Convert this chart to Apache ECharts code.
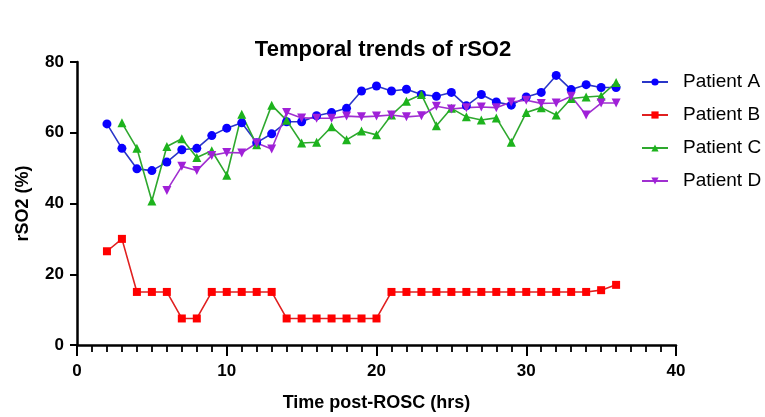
<!DOCTYPE html>
<html>
<head>
<meta charset="utf-8">
<script src="https://cdn.jsdelivr.net/npm/echarts@6/dist/echarts.min.js"></script>
<style>
  html, body { margin: 0; padding: 0; background: #fff; }
  #chart { width: 765px; height: 417px; }
</style>
</head>
<body>
<div id="chart"></div>
<script>
// Hours after return of spontaneous circulation
const hoursA = [2,3,4,5,6,7,8,9,10,11,12,13,14,15,16,17,18,19,20,21,22,23,24,25,26,27,28,29,30,31,32,33,34,35,36];
const patientA = [62.5,55.6,49.8,49.3,51.7,55.2,55.6,59.2,61.3,62.8,57.2,59.7,63.1,63.1,64.8,65.7,66.9,71.8,73.2,71.8,72.3,70.8,70.3,71.4,67.6,70.8,68.7,67.8,70.1,71.4,76.2,72.2,73.6,72.8,72.8];

const hoursB = [2,3,4,5,6,7,8,9,10,11,12,13,14,15,16,17,18,19,20,21,22,23,24,25,26,27,28,29,30,31,32,33,34,35,36];
const patientB = [26.5,30,15,15,15,7.5,7.5,15,15,15,15,15,7.5,7.5,7.5,7.5,7.5,7.5,7.5,15,15,15,15,15,15,15,15,15,15,15,15,15,15,15.5,17];

const hoursC = [3,4,5,6,7,8,9,10,11,12,13,14,15,16,17,18,19,20,21,22,23,24,25,26,27,28,29,30,31,32,33,34,35,36];
const patientC = [62.8,55.6,40.7,56.1,58.3,53,54.9,48,65.2,56.6,67.8,63.5,57.1,57.3,61.7,58,60.5,59.4,65,68.9,70.8,62,66.9,64.5,63.6,64.2,57.3,65.7,67.1,65,69.7,70.1,70.4,74.2];

const hoursD = [6,7,8,9,10,11,12,13,14,15,16,17,18,19,20,21,22,23,24,25,26,27,28,29,30,31,32,33,34,35,36];
const patientD = [43.7,50.5,49.3,53.6,54.4,54.3,57.1,55.4,65.7,64.2,64.1,64.1,64.7,64.5,64.7,65,64.5,64.8,67.5,66.7,67.1,67.3,67.1,68.7,69.2,68.3,68.4,70.3,65,68.4,68.4];

const seriesNames = ['Patient A', 'Patient B', 'Patient C', 'Patient D'];
const xTicks = [0, 10, 20, 30, 40];
const yTicks = [0, 20, 40, 60, 80];

const pair = (xs, ys) => xs.map((x, i) => [x, ys[i]]);

const font = 'Liberation Sans, Arial, sans-serif';

function lineSeries(name, data, color, lineColor, symbol, size, rotate) {
  return {
    name: name,
    type: 'line',
    data: data,
    symbol: symbol,
    symbolSize: size,
    symbolRotate: rotate || 0,
    showAllSymbol: true,
    itemStyle: { color: color },
    lineStyle: { color: lineColor, width: 1.6 },
    emphasis: { disabled: true },
    animation: false
  };
}

const chart = echarts.init(document.getElementById('chart'), null, { renderer: 'canvas' });
chart.setOption({
  backgroundColor: '#ffffff',
  animation: false,
  title: {
    text: 'Temporal trends of rSO2',
    left: 378,
    textAlign: 'center',
    top: 34,
    textStyle: { fontFamily: font, fontSize: 22, fontWeight: 'bold', color: '#000' }
  },
  legend: {
    orient: 'vertical',
    left: 636,
    top: 67,
    itemWidth: 26,
    itemHeight: 9,
    itemGap: 13,
    data: seriesNames,
    textStyle: { fontFamily: font, fontSize: 19, lineHeight: 20, color: '#000', padding: [0, 0, 0, 10] }
  },
  grid: { left: 77, right: 89, top: 62, bottom: 70, containLabel: false },
  xAxis: {
    type: 'value',
    min: 0,
    max: 40,
    interval: 10,
    name: 'Time post-ROSC (hrs)',
    nameLocation: 'middle',
    nameGap: 49,
    nameTextStyle: { fontFamily: font, fontSize: 18, fontWeight: 'bold', color: '#000' },
    axisLine: { onZero: false, lineStyle: { color: '#000', width: 2.5 } },
    axisTick: { length: 11, lineStyle: { color: '#000', width: 2 } },
    minorTick: { show: true, splitNumber: 10, length: 7, lineStyle: { color: '#000', width: 1.8 } },
    axisLabel: {
      fontFamily: font, fontSize: 17, fontWeight: 'bold', color: '#000', margin: 18,
      formatter: v => xTicks.includes(v) ? String(v) : ''
    },
    splitLine: { show: false }
  },
  yAxis: {
    type: 'value',
    min: 0,
    max: 80,
    interval: 20,
    name: 'rSO2 (%)',
    nameLocation: 'middle',
    nameGap: 45,
    nameTextStyle: { fontFamily: font, fontSize: 18, fontWeight: 'bold', color: '#000' },
    axisLine: { show: true, lineStyle: { color: '#000', width: 2.5 } },
    axisTick: { show: true, length: 7, lineStyle: { color: '#000', width: 2 } },
    axisLabel: {
      fontFamily: font, fontSize: 17, fontWeight: 'bold', color: '#000', margin: 13,
      formatter: v => yTicks.includes(v) ? String(v) : ''
    },
    splitLine: { show: false }
  },
  series: [
    lineSeries(seriesNames[0], pair(hoursA, patientA), '#0a00ff', '#2a36c8', 'circle', 9),
    lineSeries(seriesNames[1], pair(hoursB, patientB), '#ff0000', '#e02020', 'rect', 8),
    lineSeries(seriesNames[2], pair(hoursC, patientC), '#1db31d', '#2ea82e', 'triangle', 9),
    lineSeries(seriesNames[3], pair(hoursD, patientD), '#a020d8', '#a030d0', 'triangle', 9, 180)
  ]
});
</script>
</body>
</html>
